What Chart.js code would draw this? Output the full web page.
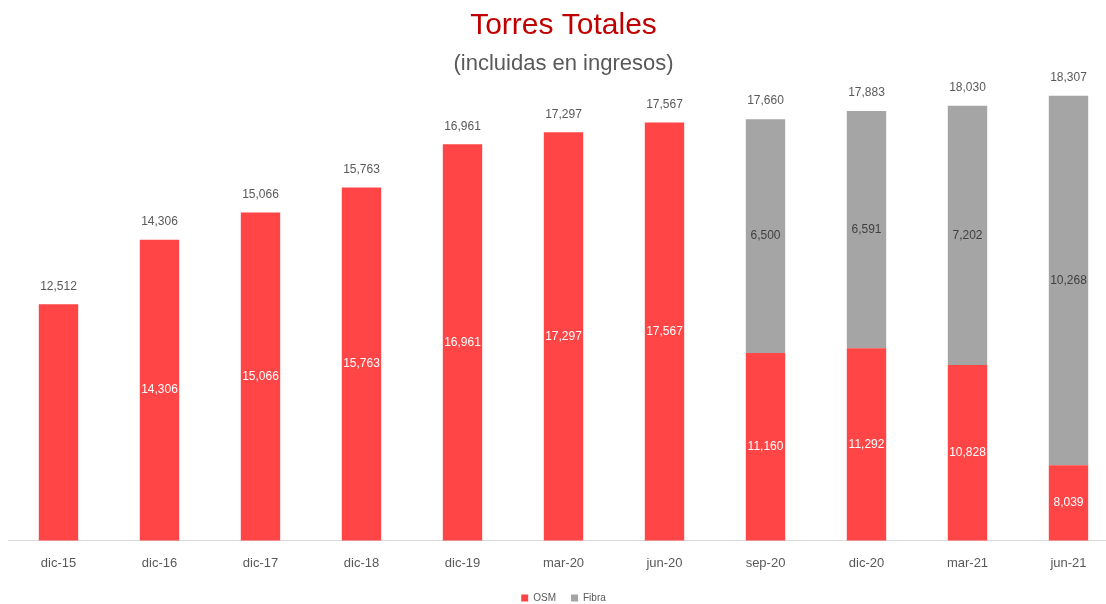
<!DOCTYPE html>
<html>
<head>
<meta charset="utf-8">
<script src="https://cdn.jsdelivr.net/npm/chart.js@4"></script>
<style>
  html, body { margin: 0; padding: 0; background: #fff; overflow: hidden; }
  #wrap { width: 1136px; height: 613px; }
</style>
</head>
<body>
<div id="wrap"><canvas id="barChart"></canvas></div>
<script>
Chart.defaults.font.family = "'Liberation Sans', Arial, sans-serif";
Chart.defaults.color = '#595959';

// periodos
const labels = ['dic-15', 'dic-16', 'dic-17', 'dic-18', 'dic-19', 'mar-20', 'jun-20', 'sep-20', 'dic-20', 'mar-21', 'jun-21'];
// torres OSM y Fibra
const osm = [12512, 14306, 15066, 15763, 16961, 17297, 17567, 11160, 11292, 10828, 8039];
const fibra = [0, 0, 0, 0, 0, 0, 0, 6500, 6591, 7202, 10268];

const fmt = v => v.toLocaleString('en-US');

// etiquetas dentro de las barras y totales arriba
const barLabels = {
  id: 'barLabels',
  afterDatasetsDraw(chart) {
    const ctx = chart.ctx;
    const bottom = chart.chartArea.bottom;
    ctx.save();
    ctx.font = "12px 'Liberation Sans', Arial, sans-serif";
    ctx.textAlign = 'center';
    ctx.textBaseline = 'middle';
    chart.data.datasets.forEach((ds, i) => {
      const meta = chart.getDatasetMeta(i);
      meta.data.forEach((bar, j) => {
        const v = ds.data[j];
        if (!v) return;
        if (i === 0 && j === 0) return; // dic-15 solo lleva el total
        const base = Math.min(bar.base, bottom);
        ctx.fillStyle = i === 0 ? '#ffffff' : '#404040';
        ctx.fillText(fmt(v), bar.x, (bar.y + base) / 2);
      });
    });
    // totales
    const m0 = chart.getDatasetMeta(0), m1 = chart.getDatasetMeta(1);
    ctx.fillStyle = '#595959';
    labels.forEach((l, j) => {
      const top = Math.min(m0.data[j].y, m1.data[j].y);
      ctx.fillText(fmt(osm[j] + fibra[j]), m0.data[j].x, top - 18);
    });
    ctx.restore();
  }
};

const chart_ctx = document.getElementById('barChart');
var barChart = new Chart(chart_ctx, {
  type: 'bar',
  data: {
    labels: labels,
    datasets: [{
      label: 'OSM',
      data: osm,
      backgroundColor: '#ff4545',
      categoryPercentage: 1,
      barPercentage: 0.39
    }, {
      label: 'Fibra',
      data: fibra,
      backgroundColor: '#a5a5a5',
      categoryPercentage: 1,
      barPercentage: 0.39
    }]
  },
  options: {
    responsive: true,
    maintainAspectRatio: false,
    animation: false,
    layout: {
      padding: { left: 8, right: 17, top: 0, bottom: 0 }
    },
    plugins: {
      title: {
        display: true,
        text: 'Torres Totales',
        color: '#c00000',
        font: { size: 30, weight: 'normal' },
        padding: { top: 8, bottom: 7 }
      },
      subtitle: {
        display: true,
        text: '(incluidas en ingresos)',
        color: '#595959',
        font: { size: 22, weight: 'normal' },
        padding: { top: 0, bottom: 0 }
      },
      legend: {
        position: 'bottom',
        labels: {
          boxWidth: 7,
          boxHeight: 7,
          padding: 15,
          color: '#595959',
          font: { size: 10 }
        }
      },
      tooltip: { enabled: false }
    },
    scales: {
      x: {
        stacked: true,
        grid: { display: false },
        border: { display: true, color: '#d9d9d9' },
        ticks: {
          color: '#595959',
          padding: 7,
          font: { size: 13 },
          maxRotation: 0
        }
      },
      y: {
        stacked: true,
        display: false,
        min: 5950,
        max: 18820
      }
    }
  },
  plugins: [barLabels]
});
</script>
</body>
</html>
